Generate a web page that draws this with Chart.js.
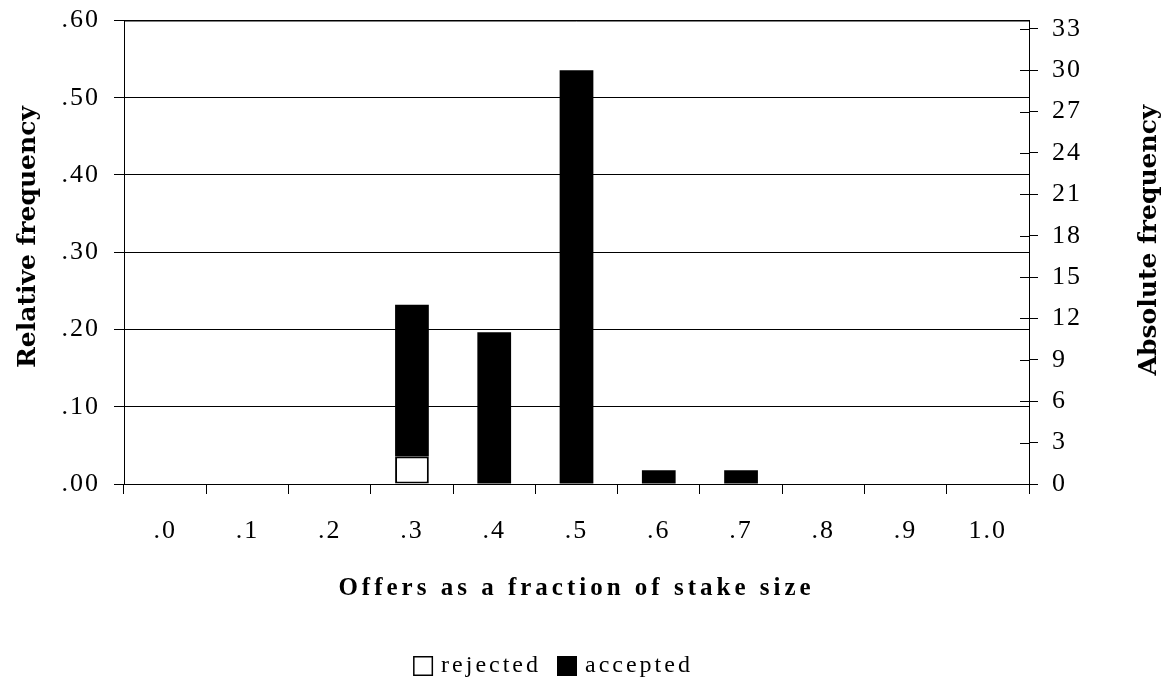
<!DOCTYPE html>
<html>
<head>
<meta charset="utf-8">
<script src="https://cdn.jsdelivr.net/npm/chart.js@4/dist/chart.umd.min.js"></script>
<style>
  html, body { margin: 0; padding: 0; background: #fff; }
  #wrap { width: 1164px; height: 682px; }
</style>
</head>
<body>
<div id="wrap"><canvas id="offers_chart" width="1164" height="682"></canvas></div>
<script>
var categories = ['.0', '.1', '.2', '.3', '.4', '.5', '.6', '.7', '.8', '.9', '1.0'];
var rejected = [0, 0, 0, 2, 0, 0, 0, 0, 0, 0, 0];
var accepted = [0, 0, 0, 11, 11, 30, 1, 1, 0, 0, 0];
var relTicks = [0, 0.1, 0.2, 0.3, 0.4, 0.5, 0.6];
var absTicks = [0, 3, 6, 9, 12, 15, 18, 21, 24, 27, 30, 33];
var totalOffers = 56;

var serif = 'Liberation Serif';
var heavy = 'DejaVu Serif';

// wider letters for the tick labels, like the original
var spacing = {
    id: 'spacing',
    beforeDraw: function(chart) {
        chart.ctx.letterSpacing = '2px';
    }
};

// titles, legend, right tick crossings and the top frame line
var extras = {
    id: 'extras',
    afterDraw: function(chart) {
        var ctx = chart.ctx;
        var area = chart.chartArea;
        var y2 = chart.scales.y2;
        ctx.save();
        ctx.strokeStyle = '#000';
        ctx.lineWidth = 1;
        ctx.beginPath();
        ctx.moveTo(area.left, area.top + 0.5);
        ctx.lineTo(area.right, area.top + 0.5);
        for (var t of absTicks) {
            var py = Math.round(y2.getPixelForValue(t)) + 0.5;
            ctx.moveTo(area.right - 9, py);
            ctx.lineTo(area.right, py);
        }
        ctx.stroke();

        ctx.fillStyle = '#000';
        ctx.textAlign = 'center';
        ctx.textBaseline = 'middle';

        ctx.font = 'bold 25px ' + serif;
        ctx.letterSpacing = '4px';
        ctx.fillText('Offers as a fraction of stake size', (area.left + area.right) / 2, 589);

        ctx.font = 'bold 25px ' + heavy;
        ctx.letterSpacing = '0px';
        ctx.save();
        ctx.translate(28, 237);
        ctx.rotate(-Math.PI / 2);
        ctx.fillText('Relative frequency', 0, 0);
        ctx.restore();

        ctx.save();
        ctx.translate(1149, 240);
        ctx.rotate(-Math.PI / 2);
        ctx.fillText('Absolute frequency', 0, 0);
        ctx.restore();

        // legend
        ctx.font = '24px ' + serif;
        ctx.letterSpacing = '3px';
        ctx.textAlign = 'left';
        var box = 20, gap = 8, between = 16;
        var items = chart.data.datasets.map(function(ds) {
            return {label: ds.label, fill: ds.backgroundColor, w: ctx.measureText(ds.label).width};
        });
        var total = 0;
        items.forEach(function(it, i) { total += box + gap + it.w + (i ? between : 0); });
        var lx = 553 - total / 2;
        var ly = 666;
        items.forEach(function(it, i) {
            if (i) lx += between;
            ctx.fillStyle = it.fill;
            ctx.fillRect(lx, ly - box / 2, box, box);
            ctx.lineWidth = 1.5;
            ctx.strokeStyle = '#000';
            ctx.strokeRect(lx + 0.75, ly - box / 2 + 0.75, box - 1.5, box - 1.5);
            ctx.fillStyle = '#000';
            ctx.fillText(it.label, lx + box + gap, ly);
            lx += box + gap + it.w;
        });
        ctx.restore();
    }
};

var ctx = document.getElementById('offers_chart');
var myChart = new Chart(ctx, {
    type: 'bar',
    data: {
        labels: categories,
        datasets: [{
            label: 'rejected',
            data: rejected,
            yAxisID: 'y2',
            backgroundColor: '#ffffff',
            borderColor: '#000000',
            borderWidth: 2,
            borderSkipped: false
        }, {
            label: 'accepted',
            data: accepted,
            yAxisID: 'y2',
            backgroundColor: '#000000',
            borderColor: '#000000',
            borderWidth: 0
        }]
    },
    options: {
        responsive: false,
        animation: false,
        categoryPercentage: 1,
        barPercentage: 0.41,
        layout: {
            padding: {top: 20, left: 0, right: 0, bottom: 0}
        },
        plugins: {
            tooltip: {enabled: false},
            legend: {display: false}
        },
        scales: {
            x: {
                stacked: true,
                grid: {
                    display: true,
                    offset: true,
                    drawOnChartArea: false,
                    color: '#000',
                    tickLength: 10
                },
                border: {color: '#000', width: 1},
                ticks: {
                    color: '#000',
                    font: {family: serif, size: 26},
                    padding: 22,
                    maxRotation: 0
                },
                afterFit: function(scale) { scale.height = 198; }
            },
            y: {
                position: 'left',
                min: 0,
                max: 0.6,
                afterBuildTicks: function(scale) {
                    scale.ticks = relTicks.map(function(v) { return {value: v}; });
                },
                grid: {color: '#000', tickLength: 10},
                border: {color: '#000', width: 1},
                ticks: {
                    color: '#000',
                    font: {family: serif, size: 26, lineHeight: 0.5},
                    padding: 14,
                    callback: function(v) { return v.toFixed(2).replace(/^0/, ''); }
                },
                afterFit: function(scale) { scale.width = 124; }
            },
            y2: {
                position: 'right',
                stacked: true,
                min: 0,
                max: 0.6 * totalOffers,
                afterBuildTicks: function(scale) {
                    scale.ticks = absTicks.map(function(v) { return {value: v}; });
                },
                grid: {drawOnChartArea: false, color: '#000', tickLength: 9},
                border: {color: '#000', width: 1},
                ticks: {
                    color: '#000',
                    font: {family: serif, size: 26, lineHeight: 0.5},
                    padding: 14,
                    callback: function(v) { return v; }
                },
                afterFit: function(scale) { scale.width = 135; }
            }
        }
    },
    plugins: [spacing, extras]
});
</script>
</body>
</html>
